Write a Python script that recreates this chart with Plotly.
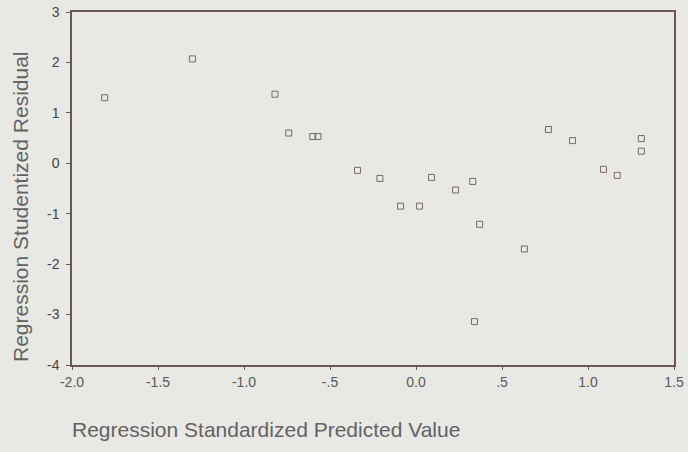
import plotly.graph_objects as go

pred = [-1.81, -1.30, -0.82, -0.74, -0.60, -0.57, -0.34, -0.21, -0.09, 0.02, 0.09,
        0.23, 0.33, 0.37, 0.63, 0.34, 0.77, 0.91, 1.31, 1.31, 1.09, 1.17]
resid = [1.30, 2.07, 1.37, 0.60, 0.53, 0.53, -0.14, -0.30, -0.85, -0.85, -0.28,
         -0.53, -0.36, -1.21, -1.70, -3.14, 0.67, 0.45, 0.49, 0.24, -0.12, -0.24]

xticks = [-2.0, -1.5, -1.0, -0.5, 0.0, 0.5, 1.0, 1.5]
xticklabels = ["-2.0", "-1.5", "-1.0", "-.5", "0.0", ".5", "1.0", "1.5"]
yticks = [-4, -3, -2, -1, 0, 1, 2, 3]
yticklabels = ["-4", "-3", "-2", "-1", "0", "1", "2", "3"]

bg = "#e8e8e4"
ink = "#6a5658"
txt = "#636363"

fig = go.Figure(go.Scatter(
    x=pred, y=resid, mode="markers",
    marker=dict(symbol="square-open", size=6, color="#7a6a6a", line=dict(width=1)),
    showlegend=False,
))

fig.update_layout(
    width=688, height=452,
    margin=dict(l=72, r=14, t=12, b=87),
    paper_bgcolor=bg, plot_bgcolor=bg,
    font=dict(family="Liberation Sans, Arial", size=14, color=txt),
)
fig.update_xaxes(
    range=[-2.0, 1.5], tickvals=xticks, ticktext=xticklabels, automargin=False,
    showgrid=False, zeroline=False, showline=True, linecolor=ink, linewidth=1.5,
    mirror=True, ticks="outside", ticklen=3, tickcolor=ink, tickfont=dict(size=14, color="#5a5a5a"),
)
fig.update_yaxes(
    range=[-4, 3], tickvals=yticks, ticktext=yticklabels, automargin=False,
    showgrid=False, zeroline=False, showline=True, linecolor=ink, linewidth=1.5,
    mirror=True, ticks="outside", ticklen=4, tickcolor=ink, tickfont=dict(size=14, color="#444"),
    ticklabelstandoff=4,
)
fig.add_annotation(
    text="Regression Studentized Residual", xref="paper", yref="paper",
    x=-0.0847, y=0.4476, xanchor="center", yanchor="middle", textangle=-90,
    showarrow=False, font=dict(size=21, color=txt),
)
fig.add_annotation(
    text="Regression Standardized Predicted Value", xref="paper", yref="paper",
    x=-0.004, y=-0.184, xanchor="left", yanchor="middle", showarrow=False,
    font=dict(size=21, color=txt),
)

fig.write_html(
    "out.html",
    config={"displayModeBar": False},
    post_script="document.body.style.margin='0';document.body.style.background='%s';" % bg,
)
